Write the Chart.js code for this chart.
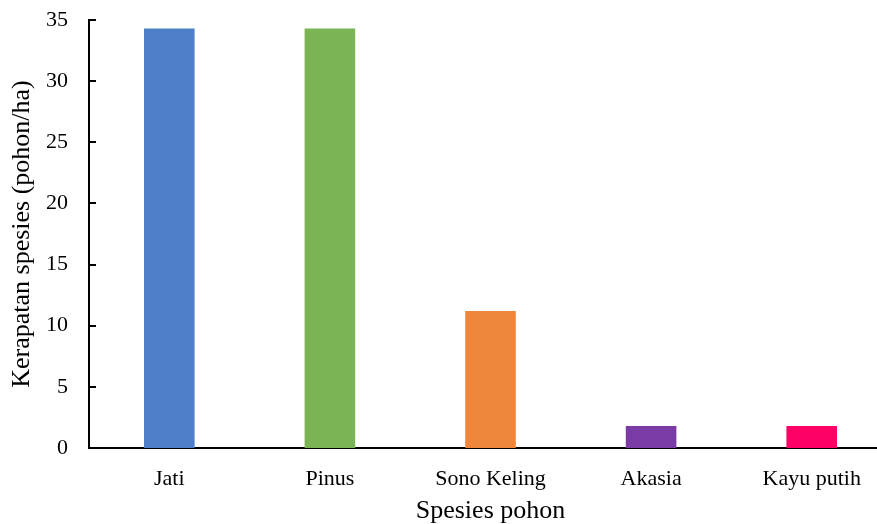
<!DOCTYPE html>
<html>
<head>
<meta charset="utf-8">
<script src="https://cdn.jsdelivr.net/npm/chart.js@4/dist/chart.umd.min.js"></script>
<style>
  html, body { margin: 0; padding: 0; background: #fff; overflow: hidden; }
  #wrap { width: 892px; height: 524px; }
</style>
</head>
<body>
<div id="wrap"><canvas id="chart" width="892" height="524"></canvas></div>
<script>
const species = ["Jati", "Pinus", "Sono Keling", "Akasia", "Kayu putih"];
const density = [34.3, 34.3, 11.2, 1.8, 1.8];
const barColors = ["#4e7ec8", "#7bb452", "#ee873b", "#7a3ba6", "#ff0066"];
const yTicks = [0, 5, 10, 15, 20, 25, 30, 35];

const serif = "'Liberation Serif', 'Times New Roman', serif";

// short inward tick marks on the y axis, like the office chart
const innerTicks = {
    id: 'innerTicks',
    afterDraw(chart) {
        const { ctx, scales: { x, y } } = chart;
        ctx.save();
        ctx.strokeStyle = '#000';
        ctx.lineWidth = 2;
        yTicks.forEach(v => {
            const py = Math.round(y.getPixelForValue(v));
            ctx.beginPath();
            ctx.moveTo(x.left, py);
            ctx.lineTo(x.left + 7, py);
            ctx.stroke();
        });
        ctx.restore();
    }
};

new Chart(document.getElementById('chart'), {
    type: 'bar',
    data: {
        labels: species,
        datasets: [{
            data: density,
            backgroundColor: barColors,
            borderWidth: 0,
            categoryPercentage: 1,
            barPercentage: 0.315
        }]
    },
    options: {
        responsive: false,
        animation: false,
        layout: { padding: { top: 20, right: 0, bottom: 0, left: 0 } },
        plugins: { legend: { display: false }, tooltip: { enabled: false } },
        scales: {
            x: {
                grid: { display: false, drawTicks: false },
                border: { display: true, color: '#000', width: 2 },
                ticks: { color: '#000', font: { family: serif, size: 22 }, padding: 18 },
                title: {
                    display: true, text: 'Spesies pohon', color: '#000',
                    font: { family: serif, size: 26, lineHeight: 1 }, padding: { top: 0, bottom: 0 }
                },
                afterFit(s) { s.height = 76; s.paddingLeft = 0; s.paddingRight = 0; }
            },
            y: {
                min: 0, max: 35,
                afterBuildTicks(s) { s.ticks = yTicks.map(v => ({ value: v })); },
                grid: { display: false, drawTicks: false },
                border: { display: true, color: '#000', width: 2 },
                ticks: { color: '#000', font: { family: serif, size: 22 }, padding: 21 },
                title: {
                    display: true, text: 'Kerapatan spesies (pohon/ha)', color: '#000',
                    font: { family: serif, size: 26, lineHeight: 1 }, padding: { top: 9, bottom: 0 }
                },
                afterFit(s) { s.width = 89; s.paddingTop = 0; s.paddingBottom = 0; }
            }
        }
    },
    plugins: [innerTicks]
});
</script>
</body>
</html>
